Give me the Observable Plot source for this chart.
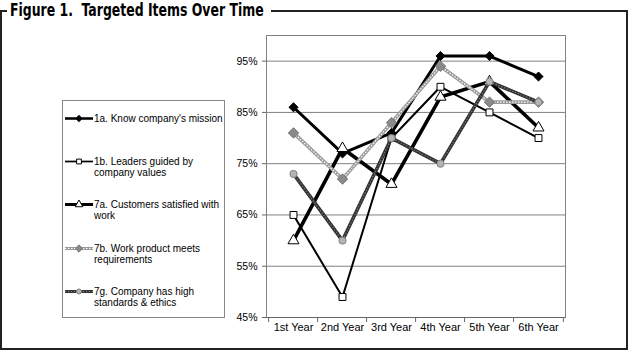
<!DOCTYPE html>
<html><head><meta charset="utf-8">
<script src="https://cdn.jsdelivr.net/npm/d3@7"></script>
<script src="https://cdn.jsdelivr.net/npm/@observablehq/plot@0.6"></script>
<style>
html,body{margin:0;padding:0;background:#fff;}
#wrap{position:relative;width:628px;height:351px;overflow:hidden;font-family:"Liberation Sans",Arial,sans-serif;color:#000;}
#chart{position:absolute;left:0;top:0;}
#frame{position:absolute;left:0;top:10px;width:628px;height:340px;box-sizing:border-box;border:2px solid #222;}
#titlebg{position:absolute;left:7px;top:0;width:264px;height:20px;background:#fff;}
#title{position:absolute;left:10px;top:0;font-family:"Liberation Sans Narrow","DejaVu Sans Condensed",sans-serif;font-weight:bold;font-size:17px;line-height:20px;white-space:nowrap;transform:scaleX(0.815);transform-origin:0 0;}
#legend{position:absolute;left:62px;top:100px;width:163px;height:218px;box-sizing:border-box;border:1px solid #888;background:#fff;}
.item{position:absolute;left:0;height:11px;}
.item svg{position:absolute;left:2px;top:0;overflow:visible;}
.item .lbl{position:absolute;left:31px;top:0;font-size:10px;line-height:11px;white-space:nowrap;}
</style></head>
<body>
<div id="wrap">
  <div id="chart"></div>
  <div id="frame"></div>
  <div id="titlebg"></div>
  <div id="title">Figure 1.&nbsp; Targeted Items Over Time</div>
  <div id="legend"></div>
</div>
<script>
// ---- data ----
const categories = ["1st Year","2nd Year","3rd Year","4th Year","5th Year","6th Year"];
const seriesLabels = [
  ["1a. Know company's mission"],
  ["1b. Leaders guided by", "company values"],
  ["7a. Customers satisfied with", "work"],
  ["7b. Work product meets", "requirements"],
  ["7g. Company has high", "standards & ethics"]
];
const s1a = [86, 77, 81, 96, 96, 92];
const s1b = [65, 49, 80, 90, 85, 80];
const s7a = [60, 78, 71, 88, 91, 82];
const s7b = [81, 72, 83, 94, 87, 87];
const s7g = [73, 60, 80, 75, 91, 87];
const yTicks = [45, 55, 65, 75, 85, 95];

const rows = vals => categories.map((c, i) => ({year: c, value: vals[i] / 100}));
const d1a = rows(s1a), d1b = rows(s1b), d7a = rows(s7a), d7b = rows(s7b), d7g = rows(s7g);

// ---- styles ----
const styles = [
  {lines: [{stroke: "#000", w: 3}], symbol: "diamond2", r: 4.1, fill: "#000", dotStroke: "#000"},
  {lines: [{stroke: "#000", w: 2}], symbol: "square", r: 3.9, fill: "#fff", dotStroke: "#000"},
  {lines: [{stroke: "#000", w: 3.6}], symbol: "triangle", r: 4.1, fill: "#fff", dotStroke: "#000"},
  {lines: [{stroke: "#9a9a9a", w: 3.6}, {stroke: "#fff", w: 1.2, dash: "1.5 1.5"}], symbol: "diamond2", r: 4.7, fill: "#8a8a8a", dotStroke: "#777"},
  {lines: [{stroke: "#333", w: 3.6}, {stroke: "#888", w: 1.2, dash: "1 2"}], symbol: "circle", r: 3.6, fill: "#b4b4b4", dotStroke: "#808080"}
];
const datasets = [d1a, d1b, d7a, d7b, d7g];

const W = 628, H = 351, mL = 266, mR = 63, mT = 35, mB = 34;
const step = (W - mL - mR) / categories.length;

const marks = [
  Plot.gridY(yTicks.map(v => v / 100), {stroke: "#808080", strokeOpacity: 1}),
  Plot.frame({stroke: "#808080"}),
  Plot.ruleY([0.45], {stroke: "#666"}),
  Plot.axisY(yTicks.map(v => v / 100), {tickFormat: d3.format(".0%"), tickSize: 4, tickPadding: 5, fontSize: 10.5, stroke: "#666", label: null}),
  Plot.axisX({tickSize: 0, tickPadding: 6, fontSize: 11, label: null}),
  Plot.ruleX(categories, {x: d => d, y1: 0.45, y2: 0.45, insetBottom: -5, dx: -step / 2, stroke: "#666"}),
  Plot.ruleX(categories.slice(-1), {x: d => d, y1: 0.45, y2: 0.45, insetBottom: -5, dx: step / 2, stroke: "#666"})
];
datasets.forEach((data, k) => {
  const st = styles[k];
  st.lines.forEach(l => marks.push(Plot.line(data, {x: "year", y: "value", stroke: l.stroke, strokeWidth: l.w, strokeDasharray: l.dash, strokeLinejoin: "round", strokeLinecap: l.dash ? "butt" : "round"})));
  marks.push(Plot.dot(data, {x: "year", y: "value", symbol: () => st.symbol, r: st.r, fill: st.fill, stroke: st.dotStroke, strokeWidth: 1}));
});

const chart = Plot.plot({
  width: W, height: H,
  marginLeft: mL, marginRight: mR, marginTop: mT, marginBottom: mB,
  style: {background: "transparent", fontFamily: "'Liberation Sans', Arial, sans-serif", color: "#000"},
  x: {type: "point", domain: categories, padding: 0.5, axis: null, label: null},
  y: {domain: [0.45, 1.0], axis: null, label: null},
  symbol: {type: "identity"},
  marks
});
document.getElementById("chart").appendChild(chart);

// ---- legend ----
const legend = d3.select("#legend");
const centers = [17, 60.5, 103.8, 147, 190.4];
seriesLabels.forEach((lab, k) => {
  const st = styles[k];
  const item = legend.append("div").attr("class", "item").style("top", (centers[k] - 5.5) + "px").style("width", "160px");
  const svg = item.append("svg").attr("width", 28).attr("height", 11);
  st.lines.forEach(l => svg.append("line").attr("x1", 0).attr("x2", 28).attr("y1", 5.5).attr("y2", 5.5)
    .attr("stroke", l.stroke).attr("stroke-width", l.w * 0.85).attr("stroke-dasharray", l.dash || null));
  const symMap = {diamond2: d3.symbolDiamond2, square: d3.symbolSquare, triangle: d3.symbolTriangle, circle: d3.symbolCircle};
  const rr = st.r * 0.7;
  svg.append("path").attr("transform", "translate(14,5.5)")
    .attr("d", d3.symbol(symMap[st.symbol], Math.PI * rr * rr)())
    .attr("fill", st.fill).attr("stroke", st.dotStroke).attr("stroke-width", 1);
  item.append("div").attr("class", "lbl").html(lab.join("<br>"));
});
</script>
</body></html>
